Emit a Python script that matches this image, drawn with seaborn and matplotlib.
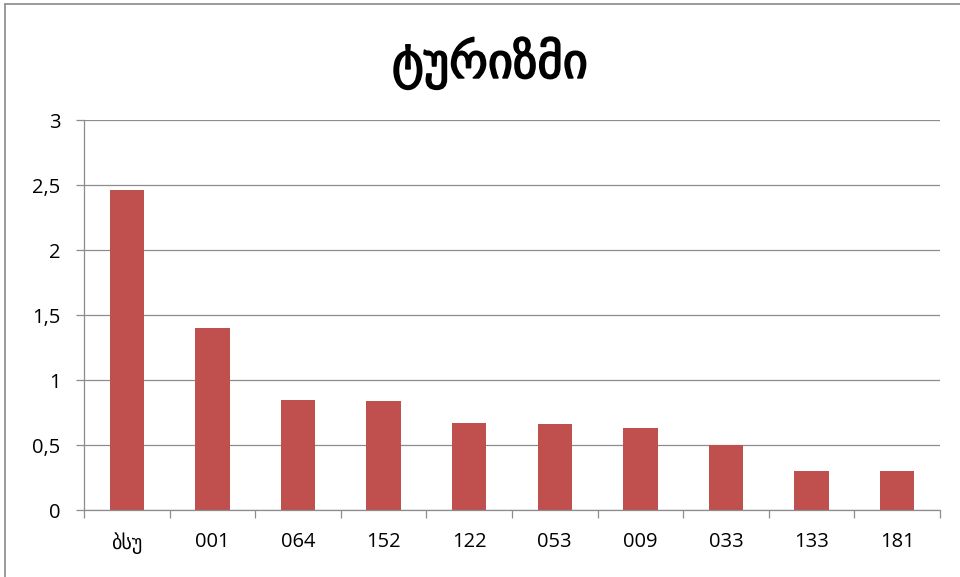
import matplotlib
matplotlib.use("Agg")
import matplotlib.pyplot as plt
from matplotlib.lines import Line2D
from matplotlib.ticker import FixedLocator, FuncFormatter
import seaborn as sns
import pandas as pd

categories = ["ბსუ", "001", "064", "152", "122", "053", "009", "033", "133", "181"]
values = [2.46, 1.40, 0.85, 0.84, 0.67, 0.66, 0.63, 0.50, 0.30, 0.30]
title = "ტურიზმი"
yticks = [0, 0.5, 1, 1.5, 2, 2.5, 3]

sns.set_theme(style="white")
plt.rcParams['font.family'] = ['Open Sans', 'DejaVu Sans']

df = pd.DataFrame({"cat": categories, "val": values})

fig = plt.figure(figsize=(9.6, 5.77), dpi=100)
ax = fig.add_axes([84/960, 1-510/577, (940-84)/960, (510-120)/577])

sns.barplot(data=df, x="cat", y="val", color="#C0504D", saturation=1, width=0.4,
            linewidth=0, ax=ax)

ax.set_ylim(0, 3)
ax.set_xlim(-0.5, len(categories)-0.5)
ax.set_yticks(yticks)
ax.yaxis.set_major_formatter(FuncFormatter(lambda v, p: (("%g" % v).replace(".", ","))))
ax.yaxis.grid(True, color="#8c8c8c", linewidth=0.9)
ax.set_axisbelow(True)
ax.set_xlabel("")
ax.set_ylabel("")

for s in ["top", "right"]:
    ax.spines[s].set_visible(False)
for s in ["left", "bottom"]:
    ax.spines[s].set_color("#8c8c8c")
    ax.spines[s].set_linewidth(0.9)

ax.tick_params(axis="y", which="major", left=True, length=6, width=0.9, color="#8c8c8c",
               labelsize=14.5, labelcolor="black", pad=11)
ax.tick_params(axis="x", which="major", bottom=False, length=0, labelsize=14.5, labelcolor="black", pad=16)
ax.xaxis.set_minor_locator(FixedLocator([i - 0.5 for i in range(len(categories)+1)]))
ax.tick_params(axis="x", which="minor", bottom=True, length=6, width=0.9, color="#8c8c8c")

t = fig.text(490/960, 1-63/577, title, ha="center", va="center", fontsize=35,
             family=["DejaVu Sans"], color="black")
import matplotlib.patheffects as pe
t.set_path_effects([pe.withStroke(linewidth=1.2, foreground="black")])

fig.add_artist(Line2D([5/960, 5/960], [0, 1-4/577], transform=fig.transFigure, color="#8a8a8a", linewidth=1.2))
fig.add_artist(Line2D([5/960, 1], [1-4/577, 1-4/577], transform=fig.transFigure, color="#8a8a8a", linewidth=1.2))

fig.savefig("out.png", dpi=100, facecolor="white")
